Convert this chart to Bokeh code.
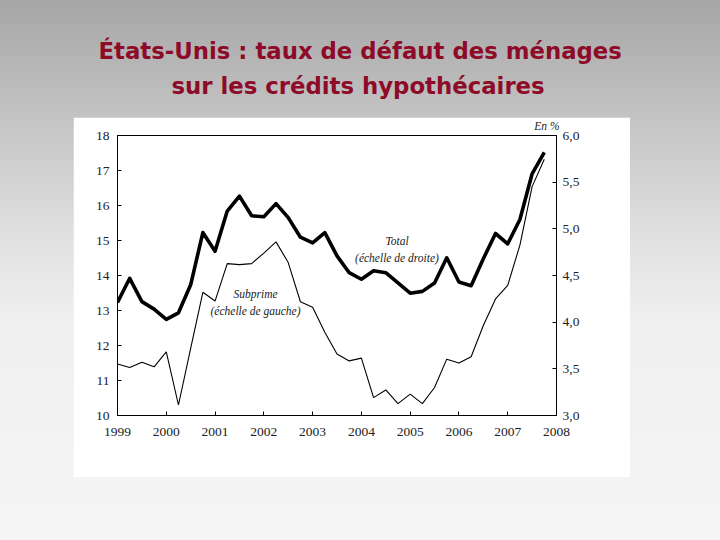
import pandas as pd
from bokeh.plotting import figure
from bokeh.models import Range1d, LinearAxis, FixedTicker, CustomJSTickFormatter, Label, Title
from bokeh.layouts import column
from bokeh.embed import file_html
from bokeh.resources import INLINE

# ---------------- data ----------------
quarters = [f"{y}T{q}" for y in range(1999, 2008) for q in range(1, 5)]

# Total (right scale, %)
total = [4.21, 4.47, 4.22, 4.14, 4.03, 4.10, 4.40, 4.96,
         4.76, 5.19, 5.35, 5.14, 5.13, 5.27, 5.12, 4.91,
         4.85, 4.96, 4.71, 4.53, 4.46, 4.55, 4.53, 4.42,
         4.31, 4.33, 4.42, 4.69, 4.43, 4.39, 4.68, 4.95,
         4.84, 5.10, 5.59, 5.82]

# Subprime (left scale, %)
subprime = [11.47, 11.37, 11.52, 11.39, 11.82, 10.30, 11.92, 13.52,
            13.27, 14.34, 14.31, 14.34, 14.64, 14.96, 14.37, 13.25,
            13.09, 12.38, 11.76, 11.56, 11.64, 10.51, 10.73, 10.34,
            10.61, 10.34, 10.80, 11.61, 11.50, 11.68, 12.57, 13.33,
            13.72, 14.87, 16.54, 17.32]

left_ticks = [10, 11, 12, 13, 14, 15, 16, 17, 18]
right_ticks = [3.0, 3.5, 4.0, 4.5, 5.0, 5.5, 6.0]
year_ticks = [1999, 2000, 2001, 2002, 2003, 2004, 2005, 2006, 2007, 2008]

title_lines = ["États-Unis : taux de défaut des ménages",
               "sur les crédits hypothécaires"]

x = [int(s[:4]) + (int(s[-1]) - 1) / 4 for s in quarters]

TICK_FONT = "Liberation Serif"
TITLE_COLOR = "#8d0a28"

# ---------------- title strip ----------------
# frame spans page pixels 44..646 (borders aligned with the chart below)
pt = figure(width=720, height=117, x_range=Range1d(44, 646), y_range=Range1d(0, 117),
            output_backend="svg", toolbar_location=None,
            min_border_left=44, min_border_right=74, min_border_top=0, min_border_bottom=0,
            x_axis_location=None, y_axis_location=None,
            background_fill_alpha=0, border_fill_alpha=0, outline_line_color=None)
pt.xgrid.grid_line_color = None
pt.ygrid.grid_line_color = None
for txt, xx, yy in zip(title_lines, [98, 171], [67, 32]):
    pt.add_layout(Label(x=xx, y=yy, text=txt, text_align="left", text_baseline="middle",
                        text_font="DejaVu Sans", text_font_style="bold",
                        text_font_size="22.8px", text_color=TITLE_COLOR))

# ---------------- main chart ----------------
p = figure(width=557, height=360, x_range=Range1d(1999, 2008), y_range=Range1d(10, 18),
           output_backend="svg", toolbar_location=None,
           min_border_left=44, min_border_right=74, min_border_top=18, min_border_bottom=62,
           background_fill_color="white", border_fill_color="white",
           margin=(0, 0, 0, 73))
p.extra_y_ranges = {"right": Range1d(3, 6)}
p.xgrid.grid_line_color = None
p.ygrid.grid_line_color = None
p.outline_line_color = "black"
p.outline_line_alpha = 1
p.outline_line_width = 1

right_axis = LinearAxis(y_range_name="right")
p.add_layout(right_axis, "right")

p.xaxis.ticker = FixedTicker(ticks=year_ticks)
p.yaxis[0].ticker = FixedTicker(ticks=left_ticks)
right_axis.ticker = FixedTicker(ticks=right_ticks)
right_axis.formatter = CustomJSTickFormatter(code="return tick.toFixed(1).replace('.', ',');")

for ax in [p.xaxis[0], p.yaxis[0], right_axis]:
    ax.axis_line_color = "black"
    ax.axis_line_width = 1
    ax.major_tick_in = 4
    ax.major_tick_out = 0
    ax.major_tick_line_color = "black"
    ax.minor_tick_line_color = None
    ax.major_label_text_font = TICK_FONT
    ax.major_label_text_font_size = "13.5px"
    ax.major_label_text_color = "#222222"
p.xaxis[0].major_label_standoff = 12
p.yaxis[0].major_label_standoff = 8
right_axis.major_label_standoff = 6

p.line(x, subprime, line_color="black", line_width=1.1)
p.line(x, total, y_range_name="right", line_color="black", line_width=3.6, line_join="round")

ann = dict(text_font=TICK_FONT, text_font_style="italic", text_font_size="11.5px",
           text_color="#222222", text_align="center", text_baseline="middle")
p.add_layout(Label(x=2001.83, y=13.46, text="Subprime", **ann))
p.add_layout(Label(x=2001.83, y=13.0, text="(échelle de gauche)", **ann))
p.add_layout(Label(x=2004.73, y=14.98, text="Total", **ann))
p.add_layout(Label(x=2004.73, y=14.50, text="(échelle de droite)", **ann))

p.add_layout(Title(text="En %", align="right", vertical_align="top", text_font=TICK_FONT,
                   text_font_style="italic", text_font_size="11.5px", text_color="#222222",
                   standoff=3, offset=-3), "above")

layout = column(pt, p, width=720, height=540, spacing=0,
                styles={"background": "linear-gradient(to bottom, #a6a6a6 0%, #c4c4c4 22%, #e2e2e2 45%, #f0f0f0 60%, #f5f5f5 100%)"})

open("out.html", "w").write(file_html(layout, INLINE))
